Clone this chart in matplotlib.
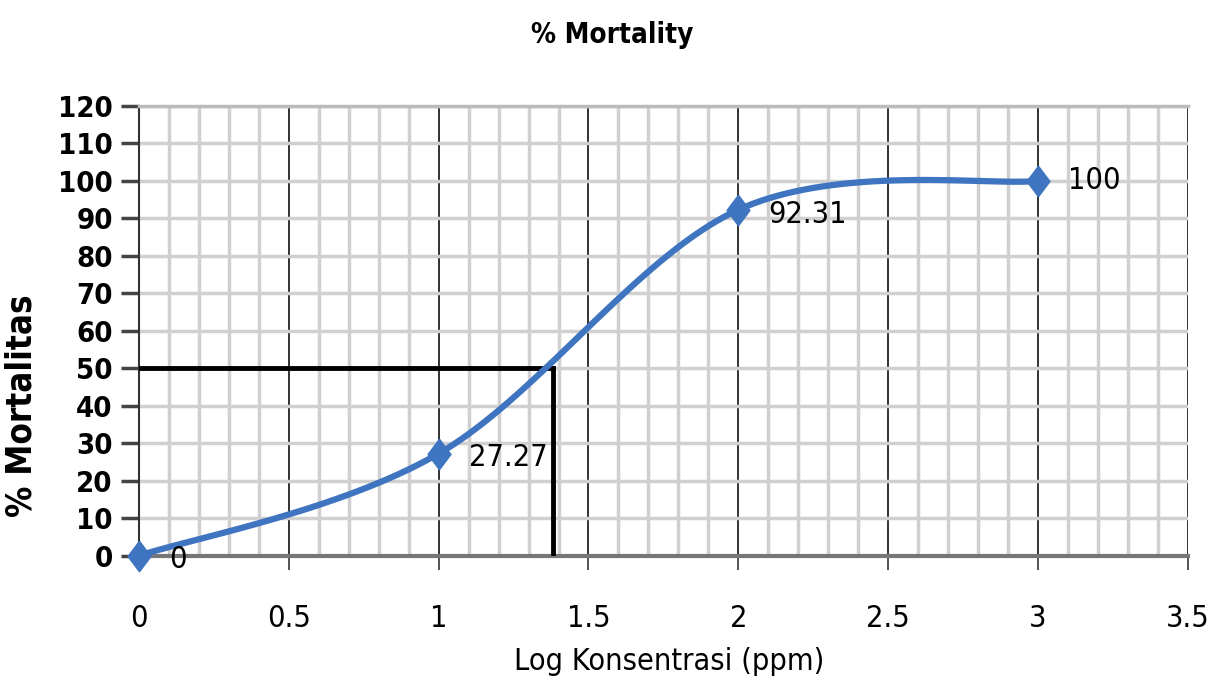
import matplotlib
matplotlib.use("Agg")
import matplotlib.pyplot as plt
import numpy as np
from matplotlib.ticker import MultipleLocator

log_conc = [0, 1, 2, 3]
mortality = [0, 27.27, 92.31, 100]
labels = ["0", "27.27", "92.31", "100"]
lc50_x = 1.38
lc50_y = 50

plt.rcParams['font.family'] = ['DejaVu Sans']
plt.rcParams['font.stretch'] = 'condensed'

# smooth line like excel (catmull-rom through the points)
def smooth(xs, ys, n=40):
    px = [xs[0]] + list(xs) + [xs[-1]]
    py = [ys[0]] + list(ys) + [ys[-1]]
    outx, outy = [], []
    for i in range(1, len(px) - 2):
        t = np.linspace(0, 1, n)
        for p, out in ((px, outx), (py, outy)):
            p0, p1, p2, p3 = p[i-1], p[i], p[i+1], p[i+2]
            c1 = p1 + (p2 - p0) / 6
            c2 = p2 - (p3 - p1) / 6
            out.extend((1-t)**3*p1 + 3*(1-t)**2*t*c1 + 3*(1-t)*t**2*c2 + t**3*p2)
    return outx, outy

fig = plt.figure(figsize=(12.12, 6.82), dpi=100)
ax = fig.add_axes([0.1147, 0.185, 0.8653, 0.6596])

ax.set_xlim(0, 3.5)
ax.set_ylim(0, 120)
ax.xaxis.set_major_locator(MultipleLocator(0.5))
ax.xaxis.set_minor_locator(MultipleLocator(0.1))
ax.yaxis.set_major_locator(MultipleLocator(10))
ax.grid(which='minor', axis='x', color='#d0d0d0', lw=2.5)
ax.grid(which='major', axis='x', color='#222222', lw=1.3)
ax.grid(which='major', axis='y', color='#d0d0d0', lw=2.5)
ax.set_axisbelow(True)

ax.spines['top'].set_color('#bbbbbb')
ax.spines['top'].set_linewidth(2.5)
ax.spines['right'].set_visible(False)
ax.spines['left'].set_color('#333333')
ax.spines['left'].set_linewidth(1.5)
ax.spines['bottom'].set_color('#777777')
ax.spines['bottom'].set_linewidth(3)
ax.tick_params(axis='y', which='major', length=13, width=2.5, color='#444444', labelsize=21, pad=6)
ax.tick_params(axis='x', which='major', length=10, width=1.3, color='#444444', labelsize=22, pad=25)
ax.tick_params(axis='x', which='minor', length=0)
for lab in ax.get_yticklabels():
    lab.set_fontweight('bold')

ax.xaxis.set_major_formatter(matplotlib.ticker.FuncFormatter(lambda v, p: f"{v:g}"))

diamond = [(0, 1), (0.75, 0), (0, -1), (-0.75, 0), (0, 1)]
sx, sy = smooth(log_conc, mortality)
ax.plot(sx, sy, color='#3f74c0', lw=4.5, solid_capstyle='round', zorder=4)
ax.plot(log_conc, mortality, marker=diamond, ls='none', color='#3f74c0', ms=22, zorder=5, clip_on=False)

ax.plot([0, lc50_x], [lc50_y, lc50_y], color='black', lw=3.5, zorder=3)
ax.plot([lc50_x, lc50_x], [0, lc50_y], color='black', lw=3.5, zorder=3)

offsets = [(0.1, -1), (0.1, -1), (0.1, -1.2), (0.1, 0)]
for x, y, t, (dx, dy) in zip(log_conc, mortality, labels, offsets):
    ax.text(x + dx, y + dy, t, fontsize=22, va='center', ha='left', zorder=6)

fig.text(0.505, 0.948, "% Mortality", ha='center', va='center', fontsize=20, fontweight='bold')
ax.set_xlabel("Log Konsentrasi (ppm)", fontsize=22)
ax.xaxis.set_label_coords(0.506, -0.203)
ax.set_ylabel("% Mortalitas", fontsize=25, fontweight='bold')
ax.yaxis.set_label_coords(-0.096, 0.333)

fig.savefig("out.png", dpi=100)
